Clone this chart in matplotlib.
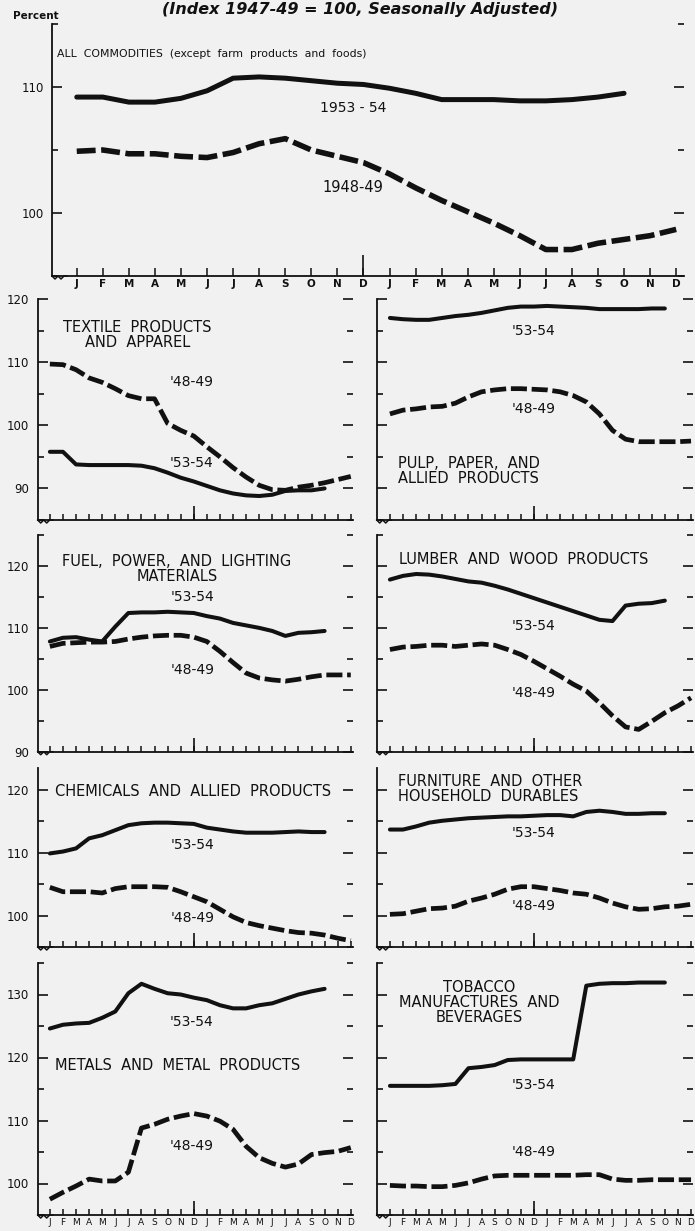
import matplotlib
matplotlib.use('Agg')
import matplotlib.pyplot as plt
from matplotlib.ticker import MultipleLocator
from matplotlib.lines import Line2D

W, H = 695, 1231
INK = '#111111'
PAPER = '#f1f1f1'

months = ['J', 'F', 'M', 'A', 'M', 'J', 'J', 'A', 'S', 'O', 'N', 'D'] * 2

# All commodities (except farm products and foods)
all_53 = [109.2, 109.2, 108.8, 108.8, 109.1, 109.7, 110.7, 110.8, 110.7, 110.5, 110.3, 110.2,
          109.9, 109.5, 109.0, 109.0, 109.0, 108.9, 108.9, 109.0, 109.2, 109.5]
all_48 = [104.9, 105.0, 104.7, 104.7, 104.5, 104.4, 104.8, 105.5, 105.9, 105.0, 104.5, 104.0,
          103.1, 102.0, 101.0, 100.1, 99.2, 98.2, 97.1, 97.1, 97.6, 97.9, 98.2, 98.7]

textile_53 = [95.8, 95.8, 93.8, 93.7, 93.7, 93.7, 93.7, 93.6, 93.2, 92.5, 91.7, 91.1,
              90.4, 89.7, 89.2, 88.9, 88.8, 89.0, 89.6, 89.7, 89.7, 90.0]
textile_48 = [109.7, 109.6, 108.8, 107.5, 106.8, 105.8, 104.7, 104.2, 104.2, 100.3, 99.2, 98.3,
              96.6, 95.0, 93.3, 91.8, 90.5, 89.8, 89.7, 90.2, 90.5, 90.9, 91.4, 91.9]

pulp_53 = [117.0, 116.8, 116.7, 116.7, 117.0, 117.3, 117.5, 117.8, 118.2, 118.6, 118.8, 118.8,
           118.9, 118.8, 118.7, 118.6, 118.4, 118.4, 118.4, 118.4, 118.5, 118.5]
pulp_48 = [101.8, 102.4, 102.6, 102.9, 103.0, 103.5, 104.5, 105.3, 105.6, 105.8, 105.8, 105.7,
           105.6, 105.3, 104.7, 103.7, 101.8, 99.2, 97.8, 97.4, 97.4, 97.4, 97.4, 97.5]

fuel_53 = [107.8, 108.4, 108.5, 108.1, 107.8, 110.2, 112.4, 112.5, 112.5, 112.6, 112.5, 112.4,
           111.9, 111.5, 110.8, 110.4, 110.0, 109.5, 108.7, 109.2, 109.3, 109.5]
fuel_48 = [107.0, 107.5, 107.6, 107.7, 107.7, 107.8, 108.2, 108.5, 108.7, 108.8, 108.8, 108.5,
           107.8, 106.2, 104.4, 102.7, 101.9, 101.6, 101.4, 101.7, 102.1, 102.4, 102.4, 102.4]

lumber_53 = [117.8, 118.4, 118.7, 118.6, 118.3, 117.9, 117.5, 117.3, 116.8, 116.2, 115.5, 114.8,
             114.1, 113.4, 112.7, 112.0, 111.3, 111.1, 113.6, 113.9, 114.0, 114.4]
lumber_48 = [106.5, 106.9, 107.0, 107.2, 107.2, 107.0, 107.2, 107.4, 107.2, 106.5, 105.7, 104.6,
             103.4, 102.2, 100.9, 99.8, 97.9, 95.8, 94.0, 93.6, 94.9, 96.3, 97.4, 98.7]

chem_53 = [109.9, 110.2, 110.7, 112.3, 112.8, 113.6, 114.4, 114.7, 114.8, 114.8, 114.7, 114.6,
           114.0, 113.7, 113.4, 113.2, 113.2, 113.2, 113.3, 113.4, 113.3, 113.3]
chem_48 = [104.5, 103.8, 103.8, 103.8, 103.6, 104.3, 104.6, 104.6, 104.6, 104.5, 103.8, 103.0,
           102.2, 101.0, 99.8, 98.9, 98.4, 98.0, 97.6, 97.3, 97.2, 96.9, 96.4, 96.0]

furn_53 = [113.7, 113.7, 114.2, 114.8, 115.1, 115.3, 115.5, 115.6, 115.7, 115.8, 115.8, 115.9,
           116.0, 116.0, 115.8, 116.5, 116.7, 116.5, 116.2, 116.2, 116.3, 116.3]
furn_48 = [100.2, 100.3, 100.7, 101.1, 101.2, 101.5, 102.3, 102.8, 103.4, 104.2, 104.6, 104.6,
           104.3, 104.0, 103.6, 103.4, 102.8, 102.0, 101.4, 101.0, 101.1, 101.4, 101.5, 101.8]

metals_53 = [124.6, 125.2, 125.4, 125.5, 126.3, 127.3, 130.2, 131.7, 130.9, 130.2, 130.0, 129.5,
             129.1, 128.3, 127.8, 127.8, 128.3, 128.6, 129.3, 130.0, 130.5, 130.9]
metals_48 = [97.5, 98.6, 99.6, 100.7, 100.4, 100.4, 101.8, 108.8, 109.4, 110.2, 110.7, 111.1,
             110.7, 109.9, 108.6, 105.9, 104.1, 103.2, 102.6, 103.1, 104.6, 104.9, 105.1, 105.7]

tobacco_53 = [115.5, 115.5, 115.5, 115.5, 115.6, 115.8, 118.3, 118.5, 118.8, 119.6, 119.7, 119.7,
              119.7, 119.7, 119.7, 131.4, 131.7, 131.8, 131.8, 131.9, 131.9, 131.9]
tobacco_48 = [99.7, 99.6, 99.6, 99.5, 99.5, 99.7, 100.1, 100.7, 101.2, 101.3, 101.3, 101.3,
              101.3, 101.3, 101.3, 101.4, 101.4, 100.7, 100.5, 100.5, 100.6, 100.6, 100.6, 100.6]

fig = plt.figure(figsize=(W / 100, H / 100), dpi=100, facecolor=PAPER)


def squiggle(x0, y0):
    # little axis-break wave at the left end of the base line
    dx = [0, 3, 6, 9, 12, 15]
    dy = [0, 3, 0, 3, 0, 0]
    fig.add_artist(Line2D([(x0 + a) / W for a in dx], [1 - (y0 + b) / H for b in dy],
                          color=INK, lw=1.1))


def panel(px, xlim, ylim, solid, dashed, labels=True, big=False):
    l, t, r, b = px
    ax = fig.add_axes([l / W, 1 - b / H, (r - l) / W, (b - t) / H])
    ax.set_facecolor('none')
    lw_s, lw_d = (3.6, 4.0) if big else (2.9, 3.4)
    ax.plot(range(len(solid)), solid, color=INK, lw=lw_s,
            solid_capstyle='round', solid_joinstyle='round', clip_on=False)
    ax.plot(range(len(dashed)), dashed, color=INK, lw=lw_d,
            linestyle=(0, (3.4, 1.0)), dash_capstyle='butt', clip_on=False)
    ax.set_xlim(xlim)
    ax.set_ylim(ylim)
    ax.spines['top'].set_visible(False)
    ax.spines['right'].set_visible(False)
    for s in ['left', 'bottom']:
        ax.spines[s].set_linewidth(1.3)
        ax.spines[s].set_color(INK)
    ax.yaxis.set_major_locator(MultipleLocator(10))
    ax.yaxis.set_minor_locator(MultipleLocator(5))
    ax.tick_params(axis='y', which='both', direction='in', left=True, right=True,
                   width=1.2, color=INK)
    ax.tick_params(axis='y', which='major', length=7, labelsize=8.5, pad=6,
                   labelcolor=INK, labelleft=labels)
    ax.tick_params(axis='y', which='minor', length=4)
    ax.set_xticks(range(24))
    ax.set_xticks([11], minor=True)
    ax.xaxis.remove_overlapping_locs = False
    ax.tick_params(axis='x', which='major', direction='in', length=6 if big else 4,
                   width=1.1, color=INK, labelbottom=False)
    ax.tick_params(axis='x', which='minor', direction='in', length=15 if big else 10,
                   width=1.2, color=INK)
    squiggle(l, b)
    return ax


def month_labels(ax, size, bold):
    ax.set_xticks(range(24), months)
    ax.tick_params(axis='x', which='major', labelbottom=True, labelsize=size, pad=2,
                   labelcolor=INK)
    if bold:
        for lab in ax.get_xticklabels():
            lab.set_fontweight('bold')


def note(ax, x, y, s, size=10.5, ha='center', ma='center'):
    ax.text(x, y, s, fontsize=size, ha=ha, va='center', multialignment=ma,
            color=INK, linespacing=1.0)


fig.text(360 / W, 1 - 14 / H, '(Index 1947-49 = 100, Seasonally Adjusted)',
         ha='center', va='baseline', fontsize=11.5, fontweight='bold',
         fontstyle='italic', color=INK)
fig.text(13 / W, 1 - 19 / H, 'Percent', ha='left', va='baseline', fontsize=7.5,
         fontweight='bold', color=INK)

# top panel
ax = panel((52, 24, 684, 276), (-0.95, 23.3), (95, 115), all_53, all_48, big=True)
month_labels(ax, 7.5, True)
note(ax, -0.76, 112.6, 'ALL  COMMODITIES  (except  farm  products  and  foods)',
     size=7.8, ha='left')
note(ax, 10.6, 108.35, '1953 - 54', size=10)
note(ax, 10.6, 102.0, '1948-49', size=10.5)

LX = (-0.93, 23.17)
RX = (-1.01, 23.15)
LC = (37.7, 353)
RC = (376.7, 693)
TAG = 10

# row 1
ax = panel((LC[0], 299, LC[1], 520), LX, (85, 120), textile_53, textile_48)
note(ax, 6.7, 114.3, 'TEXTILE  PRODUCTS\nAND  APPAREL')
note(ax, 10.8, 106.8, "'48-49", TAG)
note(ax, 10.8, 94.0, "'53-54", TAG)
ax = panel((RC[0], 299, RC[1], 520), RX, (85, 120), pulp_53, pulp_48, labels=False)
note(ax, 11.0, 114.9, "'53-54", TAG)
note(ax, 11.0, 102.6, "'48-49", TAG)
note(ax, 0.6, 92.7, 'PULP,  PAPER,  AND\nALLIED  PRODUCTS', ha='left', ma='left')

# row 2
ax = panel((LC[0], 535, LC[1], 751.7), LX, (90, 125), fuel_53, fuel_48)
note(ax, 9.7, 119.5, 'FUEL,  POWER,  AND  LIGHTING\nMATERIALS')
note(ax, 10.9, 115.0, "'53-54", TAG)
note(ax, 10.9, 103.2, "'48-49", TAG)
ax = panel((RC[0], 535, RC[1], 751.7), RX, (90, 125), lumber_53, lumber_48, labels=False)
note(ax, 0.7, 121.0, 'LUMBER  AND  WOOD  PRODUCTS', ha='left')
note(ax, 11.0, 110.3, "'53-54", TAG)
note(ax, 11.0, 99.5, "'48-49", TAG)

# row 3
ax = panel((LC[0], 768, LC[1], 947), LX, (95, 123.5), chem_53, chem_48)
note(ax, 0.38, 119.7, 'CHEMICALS  AND  ALLIED  PRODUCTS', ha='left')
note(ax, 10.9, 111.2, "'53-54", TAG)
note(ax, 10.9, 99.6, "'48-49", TAG)
ax = panel((RC[0], 768, RC[1], 947), RX, (95, 123.5), furn_53, furn_48, labels=False)
note(ax, 0.6, 120.2, 'FURNITURE  AND  OTHER\nHOUSEHOLD  DURABLES', ha='left', ma='left')
note(ax, 11.0, 113.1, "'53-54", TAG)
note(ax, 11.0, 101.6, "'48-49", TAG)

# row 4
ax = panel((LC[0], 963, LC[1], 1215), LX, (95, 135), metals_53, metals_48)
note(ax, 0.38, 118.8, 'METALS  AND  METAL  PRODUCTS', ha='left')
note(ax, 10.8, 125.7, "'53-54", TAG)
note(ax, 10.8, 106.0, "'48-49", TAG)
month_labels(ax, 6.5, False)
ax = panel((RC[0], 963, RC[1], 1215), RX, (95, 135), tobacco_53, tobacco_48, labels=False)
note(ax, 6.8, 128.7, 'TOBACCO\nMANUFACTURES  AND\nBEVERAGES')
note(ax, 11.0, 115.6, "'53-54", TAG)
note(ax, 11.0, 105.0, "'48-49", TAG)
month_labels(ax, 6.5, False)

fig.savefig('out.png', dpi=100, facecolor=PAPER)
